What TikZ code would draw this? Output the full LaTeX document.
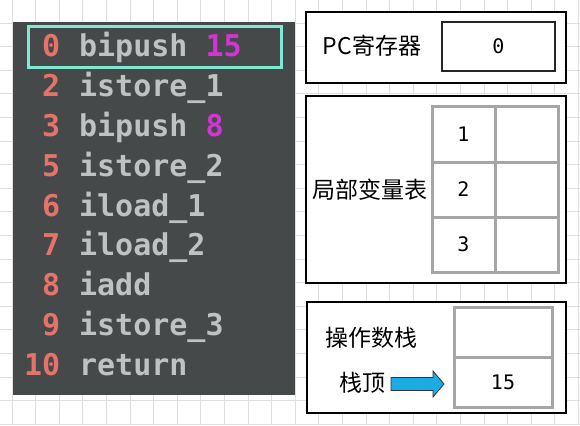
\documentclass[tikz,border=0pt]{standalone}
\usepackage{fontspec}
\setmonofont{DejaVu Sans Mono}
\newfontfamily\cjk{Noto Sans CJK SC}
\usetikzlibrary{positioning}
\definecolor{codebg}{HTML}{45494A}
\definecolor{codefg}{HTML}{C0C2C2}
\definecolor{lineno}{HTML}{E5736C}
\definecolor{hlnum}{HTML}{D633D6}
\definecolor{aqua}{HTML}{7FE9D3}
\definecolor{slotgray}{HTML}{A6A6A6}
\definecolor{gridgray}{HTML}{DEDEDE}
\definecolor{arrowblue}{HTML}{1AACE3}
\newcommand{\hlnum}[1]{\textcolor{hlnum}{#1}}

\begin{document}
\begin{tikzpicture}[x=1pt,y=-1pt,line join=miter,
    gridline/.style={gridgray,line width=0.8pt},
    numtext/.style={font=\ttfamily\bfseries\fontsize{30}{30}\selectfont,text=lineno,inner sep=0pt,anchor=base east},
    optext/.style={font=\ttfamily\bfseries\fontsize{30}{30}\selectfont,text=codefg,inner sep=0pt,anchor=base west},
    regbox/.style={draw=black,line width=1.1pt,fill=white,inner sep=0pt},
    slot/.style={draw=slotgray,line width=3pt,fill=white,inner sep=0pt,
                 font=\ttfamily\fontsize{20}{20}\selectfont},
    cntext/.style={font=\cjk\fontsize{23}{23}\selectfont,inner sep=0pt}]
  \useasboundingbox (0,0) rectangle (580,425);
  \def\gap{23.6}
  \def\rowgap{39.75}

  % background grid
  \foreach \i in {0,...,24} \draw[gridline] ({12+\gap*\i},0) -- ({12+\gap*\i},425);
  \foreach \j in {0,...,18} \draw[gridline] (0,{-0.6+\gap*\j}) -- (580,{-0.6+\gap*\j});

  % bytecode listing
  \node[fill=codebg,inner sep=0pt,minimum width=282,minimum height=373] (code) at (154,208.5) {};
  \node[draw=aqua,line width=3pt,inner sep=0pt,minimum width=253,minimum height=41] (cur) at (154.5,47.5) {};
  \foreach \n/\op [count=\k from 0] in {0/bipush \hlnum{15},2/istore\_1,3/bipush \hlnum{8},
      5/istore\_2,6/iload\_1,7/iload\_2,8/iadd,9/istore\_3,10/return}
  {
    \node[numtext] (n\k) at (60.5,{57+\rowgap*\k}) {\n};
    \node[optext] (op\k) at (78.9,{57+\rowgap*\k}) {\op};
  }

  % PC register
  \node[regbox,minimum width=260,minimum height=71] (pc) at (436,47.5) {};
  \node[cntext] (pclabel) at (372,46) {PC寄存器};
  \node[regbox,line width=2pt,draw=black!85,minimum width=113,minimum height=49,
        font=\ttfamily\fontsize{20}{20}\selectfont] (pcval) at (498.5,46.5) {0};

  % local variables
  \node[regbox,minimum width=260,minimum height=187] (locals) at (436,189.5) {};
  \node[cntext] (loclabel) at (370,190) {局部变量表};
  \foreach \r in {1,2,3}
  {
    \node[slot,minimum width=63,minimum height=55] (idx\r) at (463.5,{79.5+55*\r}) {\r};
    \node[slot,minimum width=63,minimum height=55] (val\r) at (526.5,{79.5+55*\r}) {};
  }

  % operand stack
  \node[regbox,minimum width=259,minimum height=111] (stack) at (436.5,357.5) {};
  \node[cntext] (stklabel) at (371,338) {操作数栈};
  \node[slot,minimum width=98,minimum height=50] (s1) at (503,332) {};
  \node[slot,minimum width=98,minimum height=50] (s0) at (503,382) {15};
  \node[cntext] (toplabel) at (362,383) {栈顶};
  \coordinate (tip) at (444,384);
  \draw[fill=arrowblue,draw=black!80,line width=0.8pt]
    (tip) -- ++(-11,-13) -- ++(0,6.5) -- ++(-42,0) -- ++(0,13)
    -- ++(42,0) -- ++(0,6.5) -- cycle;
\end{tikzpicture}
\end{document}
